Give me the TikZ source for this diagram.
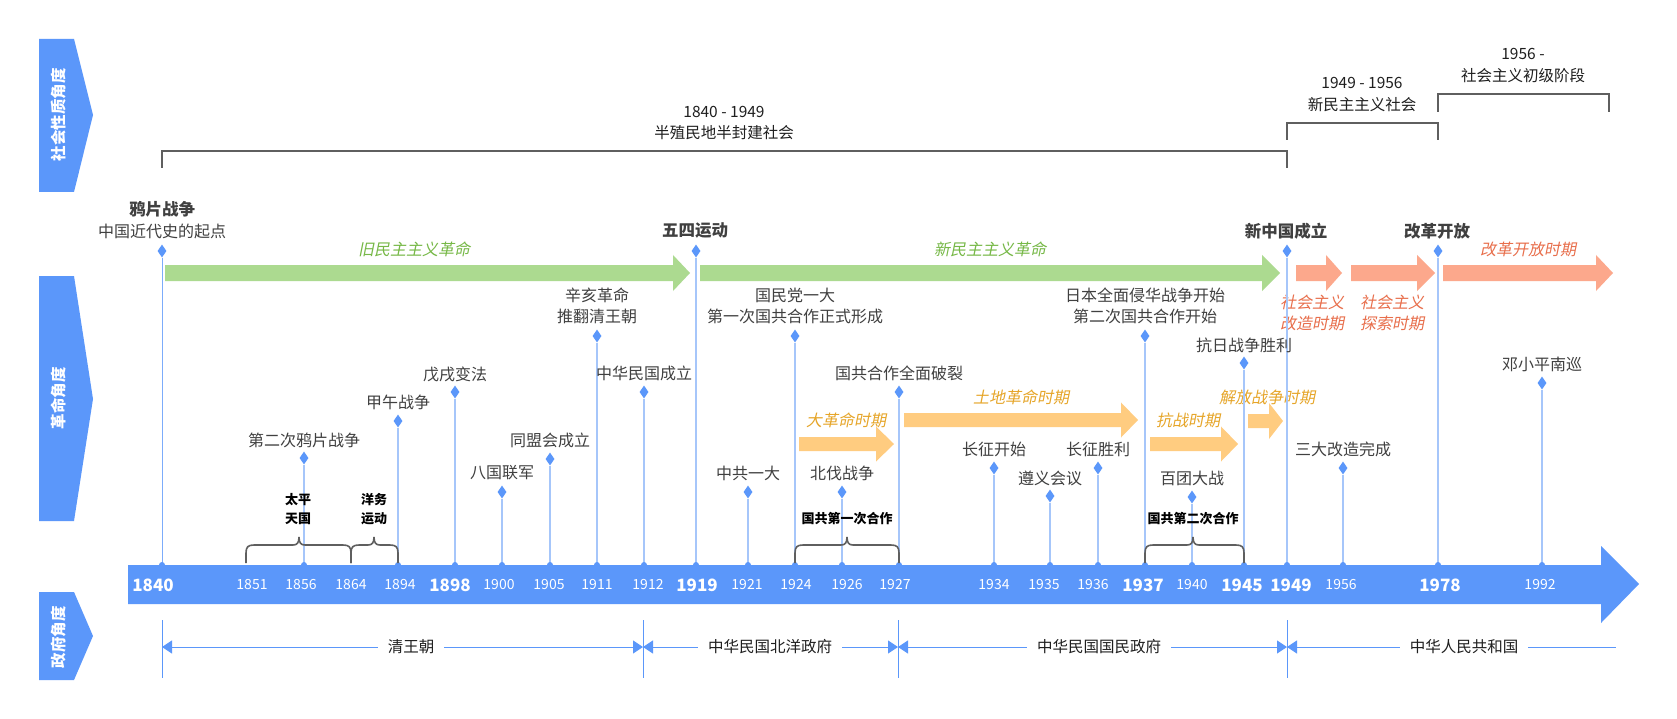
\documentclass[tikz,border=0pt]{standalone}
\usepackage{fontspec}
\setmainfont{Noto Sans CJK SC}
\newfontfamily\slfont[FakeSlant=0.2]{Noto Sans CJK SC}
\usetikzlibrary{shapes.geometric,arrows.meta}
\definecolor{barblue}{RGB}{91,151,250}
\definecolor{stemblue}{RGB}{166,198,250}
\definecolor{labelgray}{RGB}{64,64,64}
\definecolor{brgray}{RGB}{95,95,95}
\definecolor{grarrow}{RGB}{172,218,144}
\definecolor{grtext}{RGB}{118,184,70}
\definecolor{saarrow}{RGB}{252,168,140}
\definecolor{satext}{RGB}{232,110,75}
\definecolor{orarrow}{RGB}{255,204,128}
\definecolor{ortext}{RGB}{230,165,40}
\newcommand\blkarrow[7]{% color, x0, xbase, xtip, yc, h, H
  \fill[#1] (#2,#5-#6) -- (#3,#5-#6) -- (#3,#5-#7) -- (#4,#5) -- (#3,#5+#7) -- (#3,#5+#6) -- (#2,#5+#6) -- cycle;}
\newcommand\mybrace[3]{% x1, xm, x2
  \draw[bracestyle] (#1,563) -- (#1,553) .. controls (#1,547) and (#1+2,545) .. (#1+8,545) -- (#2-6,545)
   .. controls (#2-2,545) and (#2,543) .. (#2,537) .. controls (#2,543) and (#2+2,545) .. (#2+6,545)
   -- (#3-8,545) .. controls (#3-2,545) and (#3,547) .. (#3,553) -- (#3,563);}
\tikzset{
  evlabel/.style={font=\fontsize{16}{21}\selectfont, text=labelgray, align=center, inner sep=0pt},
  toplabel/.style={font=\fontsize{16.5}{21}\selectfont\bfseries, text=labelgray, inner sep=0pt},
  diam/.style={diamond, fill=barblue, minimum width=9pt, minimum height=13pt, inner sep=0pt},
  stem/.style={draw=stemblue, line width=1.8pt},
  bracestyle/.style={draw=brgray, line width=1.6pt},
  brlabel/.style={font=\fontsize{15.5}{21}\selectfont, text=black!88, align=center, inner sep=0pt},
  smallbold/.style={font=\fontsize{13}{19}\selectfont\bfseries, text=black, align=center, inner sep=0pt},
  yearn/.style={font=\fontsize{14}{16}\selectfont, text=white, inner sep=0pt},
  yearb/.style={font=\fontsize{17}{18}\selectfont\bfseries, text=white, inner sep=0pt},
  perbrack/.style={draw=brgray, line width=1.5pt},
  sidebox/.style={fill=barblue},
  sidetext/.style={font=\fontsize{15.5}{18}\selectfont\bfseries, text=white, rotate=90, inner sep=0pt},
  govline/.style={draw=barblue, line width=1pt},
  govarr/.style={draw=barblue, line width=1pt, arrows={Triangle[length=10pt,width=13pt]-Triangle[length=10pt,width=13pt]}},
  govarrL/.style={draw=barblue, line width=1pt, arrows={Triangle[length=10pt,width=13pt]-}},
  govlabel/.style={font=\fontsize{15.5}{18}\selectfont, text=black!88, fill=white, inner xsep=10pt, inner ysep=2pt},
  grlabel/.style={font=\fontsize{16}{20}\selectfont\slfont, text=grtext, inner sep=0pt},
  salabel/.style={font=\fontsize{16}{21}\selectfont\slfont, text=satext, align=center, inner sep=0pt},
  orlabel/.style={font=\fontsize{16}{20}\selectfont\slfont, text=ortext, inner sep=0pt},
}
\begin{document}
\begin{tikzpicture}[x=1pt,y=-1pt]
\useasboundingbox (0,0) rectangle (1677,719);
\fill[white] (0,0) rectangle (1677,719);

% side labels
\fill[sidebox] (39,39) -- (74,39) -- (93,115) -- (74,192) -- (39,192) -- cycle;
\node[sidetext] (s1) at (59,115) {社会性质角度};
\fill[sidebox] (39,276) -- (74,276) -- (93,399) -- (74,521) -- (39,521) -- cycle;
\node[sidetext] (s2) at (59,398) {革命角度};
\fill[sidebox] (39,592) -- (74,592) -- (93,636) -- (74,680) -- (39,680) -- cycle;
\node[sidetext] (s3) at (59,637) {政府角度};

% top period brackets
\draw[perbrack] (162,168) -- (162,151) -- (1287,151) -- (1287,168);
\node[brlabel] (p1a) at (724,112) {1840 - 1949};
\node[brlabel] (p1b) at (724,133) {半殖民地半封建社会};
\draw[perbrack] (1287,140) -- (1287,123) -- (1438,123) -- (1438,140);
\node[brlabel] (p2a) at (1362,83) {1949 - 1956};
\node[brlabel] (p2b) at (1362,105) {新民主主义社会};
\draw[perbrack] (1438,112) -- (1438,94) -- (1609,94) -- (1609,112);
\node[brlabel] (p3a) at (1523,54) {1956 -};
\node[brlabel] (p3b) at (1523,76) {社会主义初级阶段};

% block arrows
\blkarrow{grarrow}{165}{673}{690}{273}{8}{18}
\blkarrow{grarrow}{700}{1262}{1280}{273}{8}{18}
\blkarrow{saarrow}{1296}{1326}{1342}{273}{8}{18}
\blkarrow{saarrow}{1351}{1417}{1435}{273}{8}{18}
\blkarrow{saarrow}{1443}{1596}{1613}{273}{8}{18}
\blkarrow{orarrow}{799}{876}{894}{444}{7}{17.5}
\blkarrow{orarrow}{904}{1121}{1138}{420}{7}{17.5}
\blkarrow{orarrow}{1150}{1221}{1238}{444}{7}{17.5}
\blkarrow{orarrow}{1248}{1269}{1283}{421}{7}{18}
\node[grlabel] (g1) at (414,249) {旧民主主义革命};
\node[grlabel] (g2) at (990,249) {新民主主义革命};
\node[salabel] (sa1) at (1312,313) {社会主义\\改造时期};
\node[salabel] (sa2) at (1392,313) {社会主义\\探索时期};
\node[salabel] (sa3) at (1528,249) {改革开放时期};
\node[orlabel] (o1) at (846,420) {大革命时期};
\node[orlabel] (o2) at (1021,397) {土地革命时期};
\node[orlabel] (o3) at (1188,420) {抗战时期};
\node[orlabel] (o4) at (1267,397) {解放战争时期};

% main bar
\fill[barblue] (128,565) -- (1601,565) -- (1601,546) -- (1639,584) -- (1601,623) -- (1601,604) -- (128,604) -- cycle;

% main events
\foreach \yr/\px in {1840/162, 1919/696, 1949/1287, 1978/1438}{
  \coordinate (b\yr) at (\px,565);
  \node[diam] (d\yr) at (\px,251) {};
}
\draw[draw=barblue!80, line width=1pt] (d1840.south) -- (b1840);
\draw[stem] (d1919.south) -- (b1919);
\draw[stem] (d1949.south) -- (b1949);
\draw[stem] (d1978.south) -- (b1978);
\node[toplabel] (t1840) at (162,209) {鸦片战争};
\node[evlabel] (t1840b) at (162,231) {中国近代史的起点};
\node[toplabel] (t1919) at (695,231) {五四运动};
\node[toplabel] (t1949) at (1286,231) {新中国成立};
\node[toplabel] (t1978) at (1437,231) {改革开放};

% other events
\foreach \yr/\px/\yd/\ly/\t in {
  1856/304/458/440/第二次鸦片战争,
  1894/398/421/402/甲午战争,
  1898/455/392/374/戊戌变法,
  1900/502/492/473/八国联军,
  1905/550/459/440/同盟会成立,
  1911/597/336/306/辛亥革命\\推翻清王朝,
  1912/644/392/373/中华民国成立,
  1921/748/492/473/中共一大,
  1924/795/336/306/国民党一大\\第一次国共合作正式形成,
  1926/842/492/473/北伐战争,
  1927/899/392/373/国共合作全面破裂,
  1934/994/468/449/长征开始,
  1935/1050/496/478/遵义会议,
  1936/1098/468/449/长征胜利,
  1937/1145/336/306/日本全面侵华战争开始\\第二次国共合作开始,
  1940/1192/497/478/百团大战,
  1945/1244/363/345/抗日战争胜利,
  1956/1343/468/449/三大改造完成,
  1992/1542/383/364/邓小平南巡}{
  \coordinate (b\yr) at (\px,565);
  \node[diam] (d\yr) at (\px,\yd) {};
  \draw[stem] (d\yr.south) -- (b\yr);
  \node[evlabel] (l\yr) at (\px,\ly) {\t};
}
\foreach \px in {162,304,398,455,502,550,597,644,696,748,795,842,899,994,1050,1098,1145,1192,1244,1287,1343,1438,1542}{
  \fill[barblue] (\px,565) circle (3);
}

% braces
\mybrace{246}{299}{351}
\mybrace{351}{374}{398}
\mybrace{795}{847}{899}
\mybrace{1145}{1193}{1244}
\node[smallbold] (bt1) at (298,509) {太平\\天国};
\node[smallbold] (bt2) at (374,509) {洋务\\运动};
\node[smallbold] (bt3) at (847,519) {国共第一次合作};
\node[smallbold] (bt4) at (1193,519) {国共第二次合作};

% years on bar
\foreach \yr/\px in {1851/252, 1856/301, 1864/351, 1894/400, 1900/499, 1905/549, 1911/597, 1912/648, 1921/747, 1924/796, 1926/847, 1927/895, 1934/994, 1935/1044, 1936/1093, 1940/1192, 1956/1341, 1992/1540}{
  \node[yearn] (y\yr) at (\px,585) {\yr};
}
\foreach \yr/\px in {1840/153, 1898/450, 1919/697, 1937/1143, 1945/1242, 1949/1291, 1978/1440}{
  \node[yearb] (yb\yr) at (\px,585) {\yr};
}

% government periods
\foreach \n/\px in {1/162, 2/643, 3/898, 4/1287}{
  \coordinate (gt\n) at (\px,620);
  \coordinate (gb\n) at (\px,678);
  \coordinate (gm\n) at (\px,647);
  \draw[govline] (gt\n) -- (gb\n);
}
\coordinate (gend) at (1616,647);
\draw[govarr] (gm1) -- (gm2);
\draw[govarr] (gm2) -- (gm3);
\draw[govarr] (gm3) -- (gm4);
\draw[govarrL] (gm4) -- (gend);
\node[govlabel] (q1) at (411,647) {清王朝};
\node[govlabel] (q2) at (770,647) {中华民国北洋政府};
\node[govlabel] (q3) at (1099,647) {中华民国国民政府};
\node[govlabel] (q4) at (1464,647) {中华人民共和国};
\end{tikzpicture}
\end{document}
